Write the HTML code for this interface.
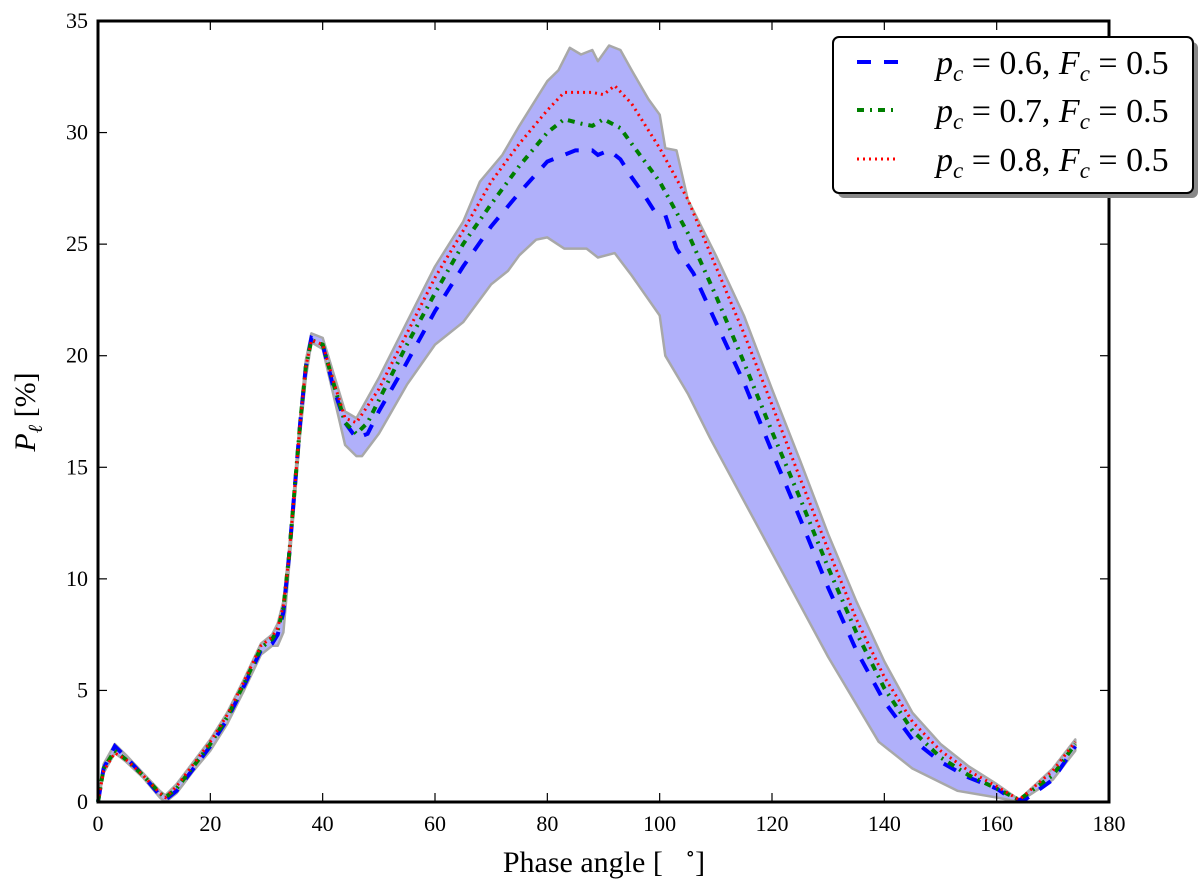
<!DOCTYPE html>
<html><head><meta charset="utf-8">
<style>
body{margin:0;background:#fff;}
svg text{font-family:"Liberation Serif","DejaVu Serif",serif;}
</style></head>
<body>
<svg id="chart" width="1200" height="891" viewBox="0 0 1200 891" xmlns="http://www.w3.org/2000/svg">
<g id="band"></g>
<g id="lines"></g>
<g id="axes"></g>
<text x="604" y="872" font-size="30" text-anchor="middle">Phase angle [ &#160;&#160;<tspan font-size="20" dy="-12">∘</tspan><tspan dy="12">]</tspan></text>
<text transform="translate(35,412) rotate(-90)" font-size="30" text-anchor="middle"><tspan font-style="italic">P</tspan><tspan font-style="italic" font-size="20" dy="7">ℓ</tspan><tspan dy="-7"> [%]</tspan></text>
<g>
<rect x="838" y="42" width="360" height="156" rx="6" fill="#888"/>
<rect x="833" y="37" width="360" height="156" rx="6" fill="#fff" stroke="#000" stroke-width="2"/>
<line x1="857" y1="62" x2="898" y2="62" stroke="#0000ff" stroke-width="4" stroke-dasharray="14,13"/>
<line x1="857" y1="110" x2="898" y2="110" stroke="#007f00" stroke-width="4" stroke-dasharray="7,6,2,6"/>
<line x1="857" y1="159" x2="898" y2="159" stroke="#ff0000" stroke-width="3" stroke-dasharray="2,4"/>
<text x="936" y="74" font-size="34"><tspan font-style="italic">p</tspan><tspan font-style="italic" font-size="23" dy="7">c</tspan><tspan dy="-7"> = 0.6, </tspan><tspan font-style="italic">F</tspan><tspan font-style="italic" font-size="23" dy="7">c</tspan><tspan dy="-7"> = 0.5</tspan></text>
<text x="936" y="122" font-size="34"><tspan font-style="italic">p</tspan><tspan font-style="italic" font-size="23" dy="7">c</tspan><tspan dy="-7"> = 0.7, </tspan><tspan font-style="italic">F</tspan><tspan font-style="italic" font-size="23" dy="7">c</tspan><tspan dy="-7"> = 0.5</tspan></text>
<text x="936" y="171" font-size="34"><tspan font-style="italic">p</tspan><tspan font-style="italic" font-size="23" dy="7">c</tspan><tspan dy="-7"> = 0.8, </tspan><tspan font-style="italic">F</tspan><tspan font-style="italic" font-size="23" dy="7">c</tspan><tspan dy="-7"> = 0.5</tspan></text>
</g>
</svg>
<script>
const xTicks=[0,20,40,60,80,100,120,140,160,180];
const yTicks=[0,5,10,15,20,25,30,35];
const blueX=[0,1,3,5,8,11,12,14,17,20,23,26,29,31,32,33,34,35,36,37,38,40,42,44,46,48,50,55,60,65,70,75,80,85,88,89,91,93,95,97,99,101,103,106,110,115,120,125,130,135,140,145,150,155,160,163,165,170,174];
const blueY=[0,1.5,2.5,2.0,1.2,0.3,0.1,0.5,1.5,2.5,3.7,5.2,6.8,7.1,7.5,8.5,11,14,17,19.5,20.8,20.5,18.5,17,16.3,16.5,17.5,19.7,22,24,25.8,27.3,28.7,29.2,29.2,29.0,29.2,28.8,28,27.3,26.5,26.3,24.8,23.7,21.5,18.8,15.7,12.7,9.6,6.8,4.5,2.8,1.8,1.1,0.6,0.1,0.1,1.0,2.5];
const greenX=[0,1,3,5,8,11,12,14,17,20,23,26,29,31,32,33,34,35,36,37,38,40,42,44,46,48,50,55,60,65,70,75,80,83,86,88,90,93,95,100,105,110,115,120,125,130,135,140,145,150,155,160,164,170,174];
const greenY=[0,1.5,2.3,1.9,1.2,0.4,0.2,0.6,1.6,2.6,3.8,5.3,6.9,7.3,7.7,8.7,11,14,17,19.5,20.7,20.5,18.7,17,16.5,17,18,20.5,22.8,25,26.8,28.5,30,30.6,30.4,30.3,30.6,30.2,29.5,27.8,25.5,22.7,19.7,16.6,13.6,10.5,7.6,5.1,3.2,2.0,1.2,0.6,0.1,1.2,2.6];
const redX=[0,1,3,5,8,11,12,14,17,20,23,26,29,31,32,33,34,35,36,37,38,40,42,44,46,50,55,60,65,70,75,80,83,88,90,92,95,100,105,110,115,120,125,130,135,140,145,150,155,160,164,170,174];
const redY=[0,1.4,2.2,1.9,1.2,0.4,0.2,0.7,1.7,2.7,3.9,5.4,7.0,7.4,7.8,8.8,11,14,17,19.5,20.7,20.5,18.8,17.2,17,18.5,21,23.5,25.6,27.8,29.5,31,31.8,31.8,31.7,32.1,31.3,29.3,27,24,21,17.8,14.5,11.3,8.2,5.6,3.6,2.3,1.4,0.7,0.1,1.4,2.7];
const upperX=[0,1,3,5,8,11,12,14,17,20,23,26,29,31,32,33,34,35,36,37,38,40,44,46,50,55,60,65,68,72,75,78,80,82,84,86,88,89,91,93,95,98,100,101,103,105,110,115,120,125,130,135,140,145,150,155,160,164,170,174];
const upperY=[0,1.7,2.6,2.1,1.3,0.5,0.3,0.8,1.8,2.8,4.0,5.5,7.1,7.5,8.0,9.0,11.3,14.3,17.3,19.8,21,20.8,17.5,17.2,19,21.5,24,26,27.8,29,30.3,31.5,32.3,32.8,33.8,33.5,33.7,33.2,33.9,33.7,32.8,31.5,30.8,29.3,29.2,27,24.5,21.8,18.5,15.3,12,9,6.3,4,2.6,1.6,0.8,0.1,1.5,2.8];
const lowerX=[0,1,3,5,8,11,12,14,17,20,23,26,29,30,31,32,33,34,35,36,37,38,40,44,46,47,50,55,60,65,70,73,75,78,80,83,87,89,92,95,100,101,105,109,115,121,130,139,145,153,160,164,170,174];
const lowerY=[0,1.3,2.2,1.8,1.1,0.2,0,0.4,1.4,2.3,3.5,5.0,6.6,6.8,7.0,7.0,7.6,10.5,13.5,16.5,19,20.6,20.3,16,15.5,15.5,16.5,18.7,20.5,21.5,23.2,23.8,24.5,25.2,25.3,24.8,24.8,24.4,24.6,23.6,21.8,20,18.3,16.3,13.5,10.7,6.5,2.7,1.5,0.5,0.2,0,1.0,2.3];

const L=98,R=1109,T=21,B=802;
function sx(v){return L+(v-0)/(180-0)*(R-L);}
function sy(v){return B-(v-0)/(35-0)*(B-T);}
const NS='http://www.w3.org/2000/svg';
function mk(tag,attrs,parent){const e=document.createElementNS(NS,tag);for(const k in attrs)e.setAttribute(k,attrs[k]);parent.appendChild(e);return e;}
function pts(xs,ys){return xs.map((x,i)=>sx(x).toFixed(1)+','+sy(ys[i]).toFixed(1));}

const band=document.getElementById('band');
const bp=pts(upperX,upperY).concat(pts(lowerX,lowerY).reverse());
const poly=mk('polygon',{points:bp.join(' '),fill:'#b0b0fa',stroke:'#a8a8a8','stroke-width':2.5,'stroke-linejoin':'round'},band);



const lines=document.getElementById('lines');
const series=[[blueX,blueY,'#0000ff',4,'14,13','series-pc-0-6'],[greenX,greenY,'#007f00',4,'7,6,2,6','series-pc-0-7'],[redX,redY,'#ff0000',3,'2,4','series-pc-0-8']];
series.forEach(s=>{
  const p=mk('polyline',{points:pts(s[0],s[1]).join(' '),fill:'none',stroke:s[2],'stroke-width':s[3],'stroke-dasharray':s[4]},lines);
  
  
});

const axes=document.getElementById('axes');
const frame=mk('rect',{x:L,y:T,width:R-L,height:B-T,fill:'none',stroke:'#000','stroke-width':3},axes);


xTicks.forEach(t=>{
  const x=sx(t);
  mk('line',{x1:x,y1:B,x2:x,y2:B-9,stroke:'#000','stroke-width':1.2},axes);
  mk('line',{x1:x,y1:T,x2:x,y2:T+9,stroke:'#000','stroke-width':1.2},axes);
  const tx=mk('text',{x:x,y:B+29,'font-size':22,'text-anchor':'middle'},axes);
  tx.textContent=t;
  
  
});
yTicks.forEach(t=>{
  const y=sy(t);
  mk('line',{x1:L,y1:y,x2:L+9,y2:y,stroke:'#000','stroke-width':1.2},axes);
  mk('line',{x1:R,y1:y,x2:R-9,y2:y,stroke:'#000','stroke-width':1.2},axes);
  const tx=mk('text',{x:L-10,y:y+7,'font-size':22,'text-anchor':'end'},axes);
  tx.textContent=t;
  
  
});
</script>
</body></html>
